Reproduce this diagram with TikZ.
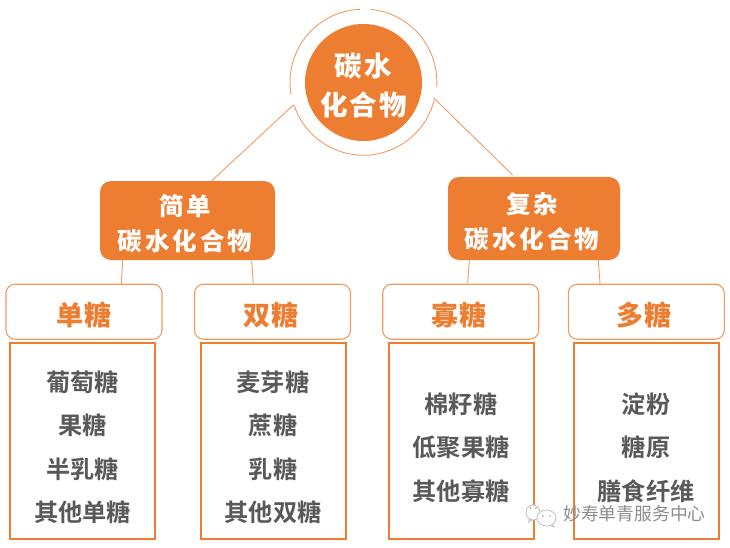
\documentclass[tikz,border=0pt]{standalone}
\usepackage{fontspec}
\usetikzlibrary{calc}
\newfontfamily\cjkroot[LetterSpace=8]{Noto Sans CJK SC Black}
\newfontfamily\cjkmid[LetterSpace=12]{Noto Sans CJK SC Black}
\newfontfamily\cjkkind[LetterSpace=4]{Noto Sans CJK SC Black}
\newfontfamily\cjkbold{Noto Sans CJK SC Bold}
\newfontfamily\cjkmark{Noto Sans CJK SC}
\definecolor{carrot}{HTML}{ED7D31}
\definecolor{carrotsoft}{HTML}{F19A62}
\definecolor{slate}{HTML}{595959}
\definecolor{mark}{HTML}{8C8C8C}
\tikzset{
  link/.style={draw=carrotsoft,line width=0.9pt},
  rootdisc/.style={circle,fill=carrot,minimum size=117pt,inner sep=0pt},
  ringguide/.style={circle,minimum size=146pt,inner sep=0pt},
  groupbox/.style={rectangle,rounded corners=11pt,fill=carrot,inner sep=0pt},
  whitetext/.style={text=white,align=center,inner sep=0pt},
  kindbox/.style={rectangle,rounded corners=9pt,draw=carrotsoft,line width=1.1pt,fill=white,
    minimum width=156pt,minimum height=55pt,inner sep=0pt},
  kindtext/.style={text=carrot,inner sep=0pt,font=\cjkkind\fontsize{27}{30}\selectfont},
  listbox/.style={rectangle,draw=carrot,line width=2pt,minimum width=145pt,minimum height=196pt,inner sep=0pt},
  listtext/.style={text=slate,inner sep=0pt,align=center,font=\cjkbold\fontsize{24.2}{43.4}\selectfont},
  wechat/.style={draw=mark!60,line width=0.7pt,fill=white},
}
\begin{document}
\begin{tikzpicture}[x=1pt,y=-1pt]
  \useasboundingbox (0,0) rectangle (730,548);

  % top of the tree: disc inside a broken ring
  \node[ringguide] (ring) at (363.2,82.2) {};
  \node[rootdisc] (root) at (363.5,82.5) {};
  \draw[link] (ring.84.5) arc[start angle=84.5,end angle=-4,radius=73pt];
  \draw[link] (ring.-13) arc[start angle=-13,end angle=-161.5,radius=73pt];
  \draw[link] (ring.190) arc[start angle=190,end angle=92,radius=73pt];
  \node[whitetext,font=\cjkroot\fontsize{27.5}{39}\selectfont] (roottext) at (363.5,85.5) {碳水\\化合物};

  % second level
  \node[groupbox,minimum width=175pt,minimum height=79pt] (simple) at (187.5,220.5) {};
  \node[groupbox,minimum width=172pt,minimum height=83pt] (complex) at (534,218.5) {};
  \node[whitetext,font=\cjkmid\fontsize{24.5}{35}\selectfont] (simpletext) at (185,224) {简单\\碳水化合物};
  \node[whitetext,font=\cjkmid\fontsize{24.5}{35}\selectfont] (complextext) at (532,222) {复杂\\碳水化合物};
  \draw[link] (ring.198.5) -- ($(simple.north)+(24.2,0)$);
  \draw[link] (ring.-13) -- ($(complex.north)+(-21.3,-1.7)$);

  % third level
  \node[kindbox] (mono) at (84,311.7) {};
  \node[kindbox] (di) at (272.5,311.7) {};
  \node[kindbox] (oligo) at (460.7,311.7) {};
  \node[kindbox] (poly) at (646.3,311.7) {};
  \node[kindtext] (monotext) at (84,315) {单糖};
  \node[kindtext] (ditext) at (271,315) {双糖};
  \node[kindtext] (oligotext) at (459,315) {寡糖};
  \node[kindtext] (polytext) at (644,315) {多糖};
  \draw[link] ($(simple.south)+(-64.8,0)$) -- ($(mono.north)+(37.3,0)$);
  \draw[link] ($(simple.south)+(64.2,0)$) -- ($(di.north)+(-19.2,0)$);
  \draw[link] ($(complex.south)+(-64.7,0)$) -- ($(oligo.north)+(7,0)$);
  \draw[link] ($(complex.south)+(64.3,0)$) -- ($(poly.north)+(-46.3,0)$);

  % member lists
  \node[listbox] (monolist) at (82.5,441) {};
  \node[listbox] (dilist) at (273.5,441) {};
  \node[listbox] (oligolist) at (461.5,441) {};
  \node[listbox] (polylist) at (646.5,441) {};
  \node[listtext] (monoitems) at (82.5,447.3) {葡萄糖\\果糖\\半乳糖\\其他单糖};
  \node[listtext] (diitems) at (273,447.3) {麦芽糖\\蔗糖\\乳糖\\其他双糖};
  \node[listtext] (oligoitems) at (461,447.5) {棉籽糖\\低聚果糖\\其他寡糖};
  \node[listtext] (polyitems) at (646,447.5) {淀粉\\糖原\\膳食纤维};

  % account mark, lower right: two speech bubbles and the account name
  \draw[wechat] (530,517) -- (528.5,522) -- (534,519);
  \draw[wechat] (533,512.5) ellipse[x radius=7pt,y radius=7.5pt];
  \draw[wechat] (552,523) -- (554,527) -- (548,525);
  \draw[wechat] (546.5,518) ellipse[x radius=9.5pt,y radius=8pt];
  \fill[mark!80] (530.5,508) circle[radius=0.8pt] (536,508) circle[radius=0.8pt]
                 (543,516) circle[radius=0.8pt] (550,516) circle[radius=0.8pt];
  \node[text=mark,inner sep=0pt,font=\cjkmark\fontsize{17.8}{20}\selectfont] (account) at (634.5,514) {妙寿单青服务中心};
\end{tikzpicture}
\end{document}
